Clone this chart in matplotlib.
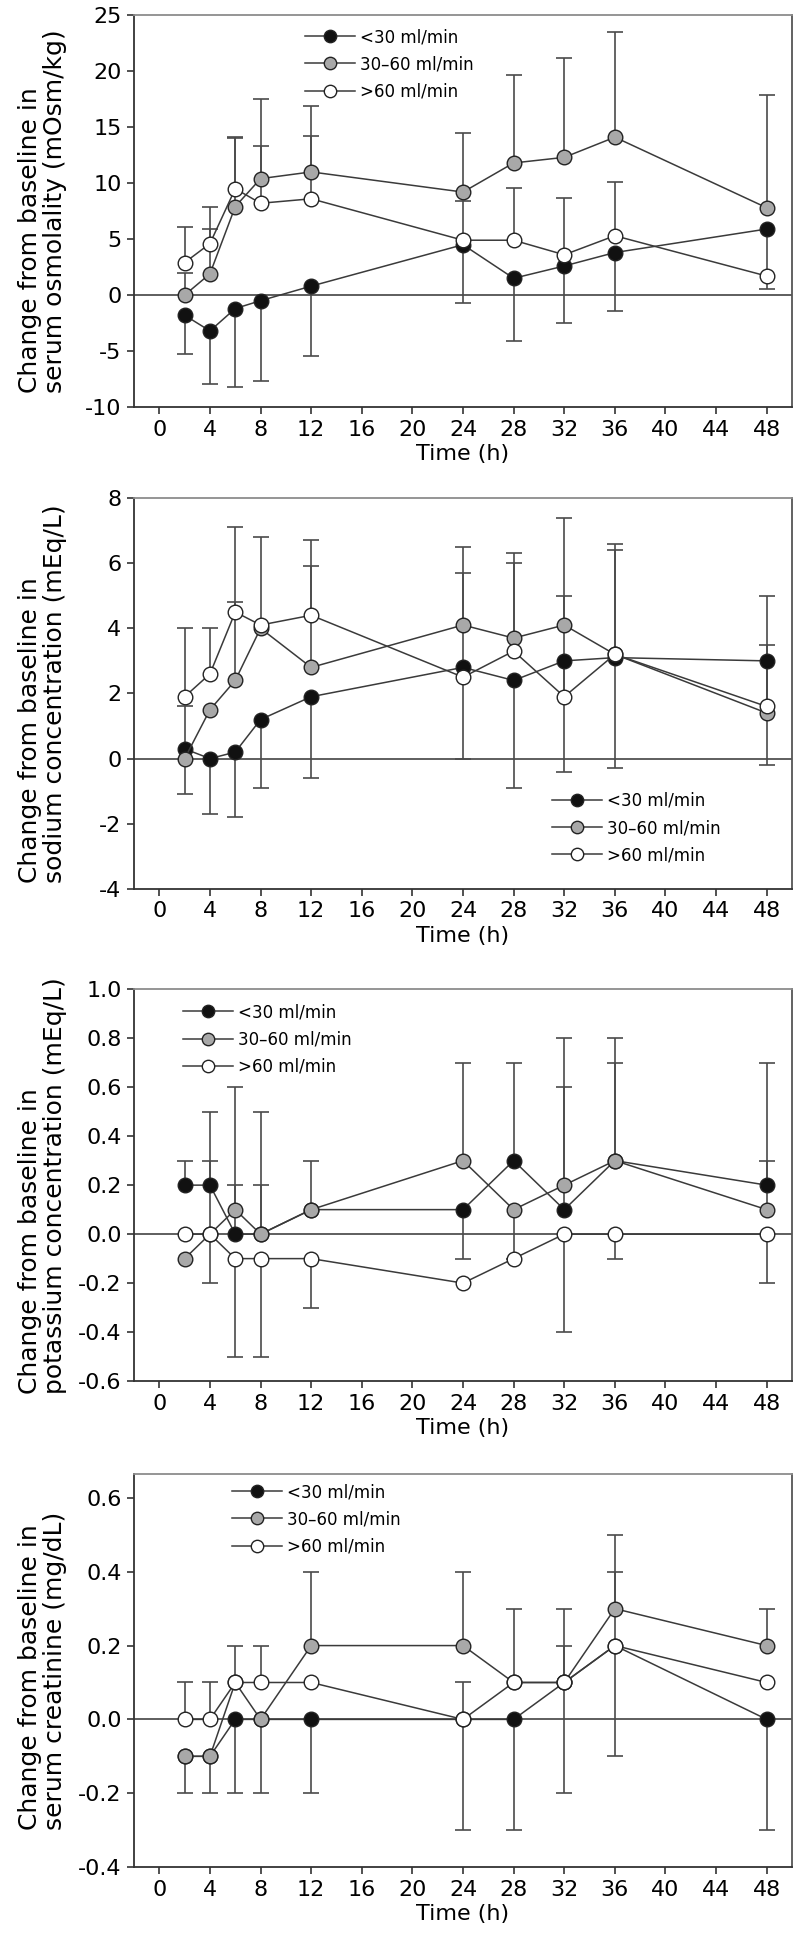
import numpy as np
import matplotlib
matplotlib.use('Agg')
import matplotlib.pyplot as plt

# sampling times (h)
time_h = [2, 4, 6, 8, 12, 24, 28, 32, 36, 48]
labels = ['<30 ml/min', '30\u201360 ml/min', '>60 ml/min']

# serum osmolality (mOsm/kg); *_lo / *_hi = end of the drawn error bar (None = no bar)
osm_lt30 = [-1.8, -3.2, -1.2, -0.5, 0.8, 4.5, 1.5, 2.6, 3.8, 5.9]
osm_lt30_lo = [-5.3, -7.9, -8.2, -7.7, -5.4, -0.7, -4.1, -2.5, -1.4, 0.5]
osm_lt30_hi = [None, None, None, None, None, None, None, None, None, None]
osm_mid = [0.0, 1.9, 7.9, 10.4, 11.0, 9.2, 11.8, 12.3, 14.1, 7.8]
osm_mid_lo = [None, None, None, None, None, None, None, None, None, None]
osm_mid_hi = [2.0, 5.9, 14.0, 17.5, 16.9, 14.5, 19.7, 21.2, 23.5, 17.9]
osm_gt60 = [2.9, 4.6, 9.5, 8.2, 8.6, 4.9, 4.9, 3.6, 5.3, 1.7]
osm_gt60_lo = [None, None, None, None, None, None, None, None, None, None]
osm_gt60_hi = [6.1, 7.9, 14.1, 13.3, 14.2, 8.4, 9.6, 8.7, 10.1, None]

# sodium (mEq/L)
na_lt30 = [0.3, 0.0, 0.2, 1.2, 1.9, 2.8, 2.4, 3.0, 3.1, 3.0]
na_lt30_lo = [-1.1, -1.7, -1.8, -0.9, -0.6, 0.0, -0.9, -0.4, -0.3, -0.2]
na_lt30_hi = [None, None, None, None, None, None, None, None, None, None]
na_mid = [0.0, 1.5, 2.4, 4.0, 2.8, 4.1, 3.7, 4.1, 3.2, 1.4]
na_mid_lo = [None, None, None, None, None, None, None, None, None, None]
na_mid_hi = [1.6, None, 4.8, None, 5.9, 6.5, 6.3, 7.4, 6.6, 5.0]
na_gt60 = [1.9, 2.6, 4.5, 4.1, 4.4, 2.5, 3.3, 1.9, 3.2, 1.6]
na_gt60_lo = [None, None, None, None, None, None, None, None, None, None]
na_gt60_hi = [4.0, 4.0, 7.1, 6.8, 6.7, 5.7, 6.0, 5.0, 6.4, 3.5]

# potassium (mEq/L)
k_lt30 = [0.2, 0.2, 0.0, 0.0, 0.1, 0.1, 0.3, 0.1, 0.3, 0.2]
k_lt30_lo = [None, None, None, None, None, -0.1, None, None, None, None]
k_lt30_hi = [0.3, 0.3, 0.2, 0.2, 0.3, None, 0.7, 0.6, 0.7, 0.7]
k_mid = [-0.1, 0.0, 0.1, 0.0, 0.1, 0.3, 0.1, 0.2, 0.3, 0.1]
k_mid_lo = [None, None, None, None, None, None, -0.1, None, None, None]
k_mid_hi = [None, 0.5, 0.6, 0.5, None, 0.7, None, 0.8, 0.8, 0.3]
k_gt60 = [0.0, 0.0, -0.1, -0.1, -0.1, -0.2, -0.1, 0.0, 0.0, 0.0]
k_gt60_lo = [None, -0.2, -0.5, -0.5, -0.3, None, None, -0.4, -0.1, -0.2]
k_gt60_hi = [None, None, None, None, None, None, None, None, None, None]

# creatinine (mg/dL)
cr_lt30 = [-0.1, -0.1, 0.0, 0.0, 0.0, 0.0, 0.0, 0.1, 0.2, 0.0]
cr_lt30_lo = [None, None, -0.2, -0.2, -0.2, -0.3, -0.3, -0.2, -0.1, -0.3]
cr_lt30_hi = [None, None, None, None, None, None, None, None, None, None]
cr_mid = [-0.1, -0.1, 0.1, 0.0, 0.2, 0.2, 0.1, 0.1, 0.3, 0.2]
cr_mid_lo = [-0.2, -0.2, None, None, None, None, None, None, None, None]
cr_mid_hi = [None, None, None, None, 0.4, 0.4, None, 0.2, 0.5, 0.3]
cr_gt60 = [0.0, 0.0, 0.1, 0.1, 0.1, 0.0, 0.1, 0.1, 0.2, 0.1]
cr_gt60_lo = [None, None, None, None, None, None, None, None, None, None]
cr_gt60_hi = [0.1, 0.1, 0.2, 0.2, None, 0.1, 0.3, 0.3, 0.4, None]

FILLS = ['#111111', '#a8a8a8', 'white']
EDGE = '#222222'
LINE = '#3a3a3a'
BAR = '#4a4a4a'


def draw_bars(ax, t, vals, ends):
    ends = np.array([np.nan if e is None else e for e in ends], float)
    ok = ~np.isnan(ends)
    if not ok.any():
        return
    x = np.asarray(t, float)[ok]
    v = np.asarray(vals, float)[ok]
    e = ends[ok]
    up = np.clip(e - v, 0, None)
    dn = np.clip(v - e, 0, None)
    _, caps, _ = ax.errorbar(x, v, yerr=[dn, up], fmt='none', ecolor=BAR,
                             elinewidth=1.2, capsize=6, capthick=1.2, zorder=2)
    # one-sided bars: hide the cap that sits on the point itself
    for c in caps:
        if np.allclose(np.asarray(c.get_ydata(), float), v):
            c.set_visible(False)


def draw_panel(ax, series, ylim, yticks, ylabel, leg_anchor, fmt):
    ax.axhline(0, color='#333333', lw=1.1, zorder=1)
    for vals, lo, hi in series:
        draw_bars(ax, time_h, vals, lo)
        draw_bars(ax, time_h, vals, hi)
    for i, (vals, lo, hi) in enumerate(series):
        ax.plot(time_h, vals, color=LINE, lw=1.1, marker='o', markersize=10.5,
                markerfacecolor=FILLS[i], markeredgecolor=EDGE, markeredgewidth=1.0,
                label=labels[i], zorder=4 + i)
    ax.set_xlim(-2, 50)
    ax.set_ylim(*ylim)
    ax.set_xticks(range(0, 49, 4))
    ax.set_yticks(yticks)
    ax.yaxis.set_major_formatter(plt.FormatStrFormatter(fmt))
    ax.tick_params(direction='out', length=5, width=1.2, color='#333333',
                   labelsize=16, pad=4)
    for side in ['left', 'bottom']:
        ax.spines[side].set_color('#333333')
        ax.spines[side].set_linewidth(1.3)
    ax.spines['top'].set_color('#8c8c8c')
    ax.spines['right'].set_color('#555555')
    ax.spines['top'].set_linewidth(1.3)
    ax.spines['right'].set_linewidth(1.3)
    ax.set_xlabel('Time (h)', fontsize=16, labelpad=3)
    ax.set_ylabel(ylabel, fontsize=18, multialignment='left', linespacing=1.05)
    ax.yaxis.set_label_coords(-0.102, 0.5)
    ax.legend(loc='upper left', bbox_to_anchor=leg_anchor, frameon=False,
              fontsize=12, handlelength=3.0, handletextpad=0.3, labelspacing=0.55,
              borderpad=0, borderaxespad=0, markerscale=0.85)


fig = plt.figure(figsize=(7.94, 19.43), dpi=100)
left, width = 0.1688, 0.8287

ax1 = fig.add_axes([left, 0.7905, width, 0.2017])
draw_panel(ax1, [(osm_lt30, osm_lt30_lo, osm_lt30_hi),
                 (osm_mid, osm_mid_lo, osm_mid_hi),
                 (osm_gt60, osm_gt60_lo, osm_gt60_hi)],
           (-10, 25), range(-10, 26, 5),
           'Change from baseline in\nserum osmolality (mOsm/kg)', (0.26, 0.967), '%d')

ax2 = fig.add_axes([left, 0.5425, width, 0.2012])
draw_panel(ax2, [(na_lt30, na_lt30_lo, na_lt30_hi),
                 (na_mid, na_mid_lo, na_mid_hi),
                 (na_gt60, na_gt60_lo, na_gt60_hi)],
           (-4, 8), range(-4, 9, 2),
           'Change from baseline in\nsodium concentration (mEq/L)', (0.635, 0.248), '%d')

ax3 = fig.add_axes([left, 0.2892, width, 0.2017])
draw_panel(ax3, [(k_lt30, k_lt30_lo, k_lt30_hi),
                 (k_mid, k_mid_lo, k_mid_hi),
                 (k_gt60, k_gt60_lo, k_gt60_hi)],
           (-0.6, 1.0), np.arange(-0.6, 1.01, 0.2),
           'Change from baseline in\npotassium concentration (mEq/L)', (0.0745, 0.964), '%.1f')

ax4 = fig.add_axes([left, 0.0391, width, 0.2023])
draw_panel(ax4, [(cr_lt30, cr_lt30_lo, cr_lt30_hi),
                 (cr_mid, cr_mid_lo, cr_mid_hi),
                 (cr_gt60, cr_gt60_lo, cr_gt60_hi)],
           (-0.4, 0.665), np.arange(-0.4, 0.61, 0.2),
           'Change from baseline in\nserum creatinine (mg/dL)', (0.149, 0.977), '%.1f')

fig.savefig('out.png', dpi=100)
